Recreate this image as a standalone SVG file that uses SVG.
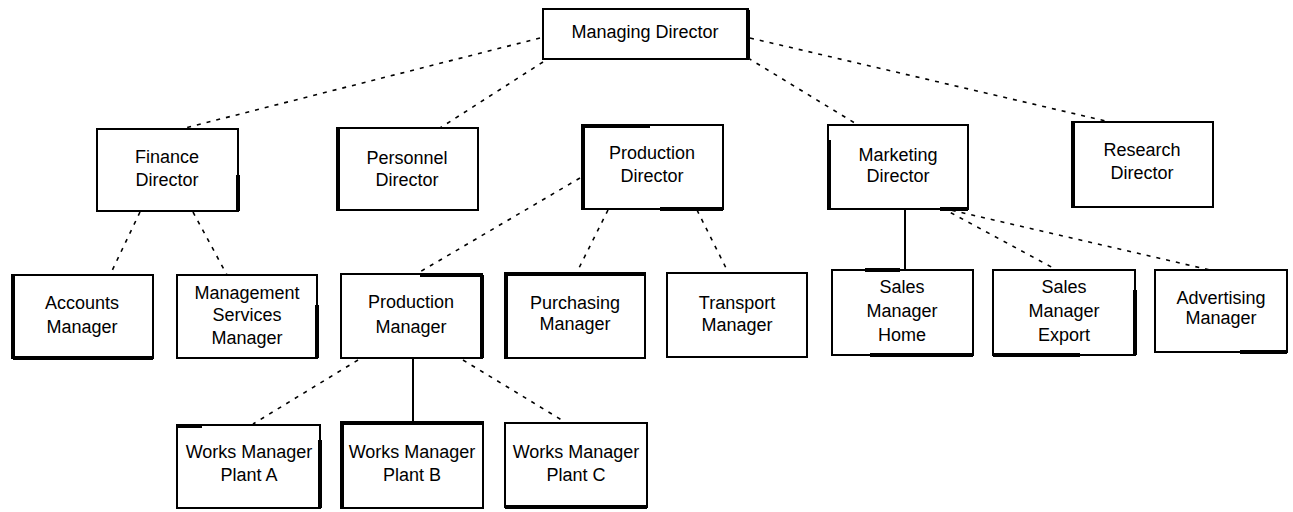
<svg xmlns="http://www.w3.org/2000/svg" width="1293" height="512" viewBox="0 0 1293 512">
<style>
.box{fill:#fff;stroke:#000;stroke-width:2}
.heavy{stroke:#000;stroke-width:4;fill:none}
.t{font-family:"Liberation Sans",Arial,sans-serif;font-size:18px;fill:#000;text-anchor:middle}
.dot{stroke:#000;stroke-width:1.6;stroke-dasharray:4 6;fill:none}
.solid{stroke:#000;stroke-width:2;fill:none}
</style>
<rect width="1293" height="512" fill="#fff"/>
<g id="connectors">
<line class="dot" x1="540" y1="38" x2="185" y2="128"/>
<line class="dot" x1="543" y1="62" x2="440" y2="128"/>
<line class="dot" x1="748" y1="58" x2="858" y2="125"/>
<line class="dot" x1="750" y1="38" x2="1110" y2="122"/>
<line class="dot" x1="140" y1="212" x2="110" y2="275"/>
<line class="dot" x1="193" y1="212" x2="227" y2="275"/>
<line class="dot" x1="580" y1="178" x2="418" y2="273"/>
<line class="dot" x1="608" y1="210" x2="577" y2="272"/>
<line class="dot" x1="697" y1="210" x2="728" y2="272"/>
<line class="solid" x1="905" y1="209" x2="905" y2="270"/>
<line class="dot" x1="942" y1="208" x2="1057" y2="270"/>
<line class="dot" x1="942" y1="208" x2="1210" y2="270"/>
<line class="dot" x1="358" y1="360" x2="253" y2="424"/>
<line class="solid" x1="413" y1="358" x2="413" y2="422"/>
<line class="dot" x1="463" y1="360" x2="565" y2="422"/>
</g>
<g id="managing-director">
<rect class="box" x="543" y="9" width="205" height="50"/>
<path class="heavy" d="M748 10V58"/>
<text class="t" x="645" y="38">Managing Director</text>
</g>
<g id="finance-director">
<rect class="box" x="97" y="129" width="141" height="82"/>
<path class="heavy" d="M238 175V211"/>
<text class="t" x="167" y="163">Finance</text>
<text class="t" x="167" y="186">Director</text>
</g>
<g id="personnel-director">
<rect class="box" x="337" y="128" width="141" height="82"/>
<path class="heavy" d="M338 129V210"/>
<text class="t" x="407" y="164">Personnel</text>
<text class="t" x="407" y="186">Director</text>
</g>
<g id="production-director">
<rect class="box" x="582" y="125" width="141" height="84"/>
<path class="heavy" d="M583 126V209M583 126H650M660 209H723"/>
<text class="t" x="652" y="159">Production</text>
<text class="t" x="652" y="182">Director</text>
</g>
<g id="marketing-director">
<rect class="box" x="828" y="125" width="140" height="84"/>
<path class="heavy" d="M829 140V209M940 209H968"/>
<text class="t" x="898" y="161">Marketing</text>
<text class="t" x="898" y="182">Director</text>
</g>
<g id="research-director">
<rect class="box" x="1072" y="122" width="141" height="85"/>
<path class="heavy" d="M1073 123V207"/>
<text class="t" x="1142" y="156">Research</text>
<text class="t" x="1142" y="179">Director</text>
</g>
<g id="accounts-manager">
<rect class="box" x="12" y="275" width="141" height="83"/>
<path class="heavy" d="M13 275V358M13 358H153"/>
<text class="t" x="82" y="309">Accounts</text>
<text class="t" x="82" y="333">Manager</text>
</g>
<g id="management-services-manager">
<rect class="box" x="177" y="275" width="140" height="83"/>
<path class="heavy" d="M317 305V358"/>
<text class="t" x="247" y="299">Management</text>
<text class="t" x="247" y="321">Services</text>
<text class="t" x="247" y="344">Manager</text>
</g>
<g id="production-manager">
<rect class="box" x="341" y="274" width="141" height="84"/>
<path class="heavy" d="M482 275V358M420 275H482"/>
<text class="t" x="411" y="308">Production</text>
<text class="t" x="411" y="333">Manager</text>
</g>
<g id="purchasing-manager">
<rect class="box" x="505" y="273" width="140" height="85"/>
<path class="heavy" d="M506 274V358M506 274H645"/>
<text class="t" x="575" y="309">Purchasing</text>
<text class="t" x="575" y="330">Manager</text>
</g>
<g id="transport-manager">
<rect class="box" x="667" y="273" width="140" height="84"/>
<text class="t" x="737" y="309">Transport</text>
<text class="t" x="737" y="331">Manager</text>
</g>
<g id="sales-manager-home">
<rect class="box" x="832" y="270" width="141" height="85"/>
<path class="heavy" d="M865 270H900M870 355H973"/>
<text class="t" x="902" y="293">Sales</text>
<text class="t" x="902" y="317">Manager</text>
<text class="t" x="902" y="341">Home</text>
</g>
<g id="sales-manager-export">
<rect class="box" x="993" y="270" width="142" height="85"/>
<path class="heavy" d="M1135 290V355M993 355H1080"/>
<text class="t" x="1064" y="293">Sales</text>
<text class="t" x="1064" y="317">Manager</text>
<text class="t" x="1064" y="341">Export</text>
</g>
<g id="advertising-manager">
<rect class="box" x="1155" y="270" width="132" height="82"/>
<path class="heavy" d="M1240 352H1287"/>
<text class="t" x="1221" y="304">Advertising</text>
<text class="t" x="1221" y="324">Manager</text>
</g>
<g id="works-manager-plant-a">
<rect class="box" x="177" y="425" width="143" height="83"/>
<path class="heavy" d="M177 426H202M320 440V508"/>
<text class="t" x="249" y="458">Works Manager</text>
<text class="t" x="249" y="481">Plant A</text>
</g>
<g id="works-manager-plant-b">
<rect class="box" x="341" y="422" width="142" height="86"/>
<path class="heavy" d="M342 423V508M342 423H483"/>
<text class="t" x="412" y="458">Works Manager</text>
<text class="t" x="412" y="481">Plant B</text>
</g>
<g id="works-manager-plant-c">
<rect class="box" x="505" y="423" width="142" height="84"/>
<path class="heavy" d="M505 507H647"/>
<text class="t" x="576" y="458">Works Manager</text>
<text class="t" x="576" y="481">Plant C</text>
</g>
</svg>
